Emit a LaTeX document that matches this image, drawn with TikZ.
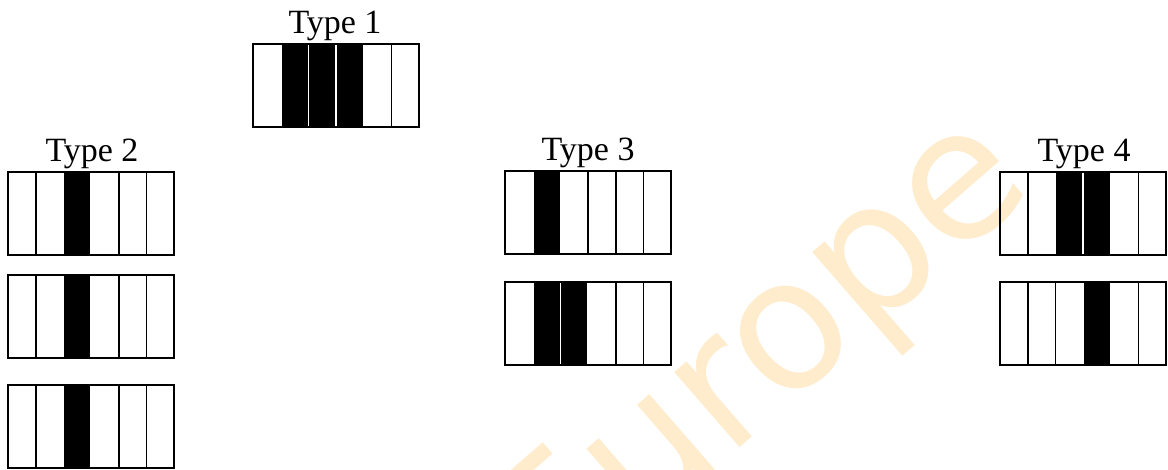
\documentclass[tikz,border=0pt]{standalone}
\usepackage{fontspec}
\setmainfont{Liberation Serif}
\newfontfamily\markfont{DejaVu Sans}
\usepackage{tikz}
\usetikzlibrary{positioning}

\definecolor{markorange}{RGB}{255,236,205}

\tikzset{
	cellline/.style={line width=1.6pt},
	blackcell/.style={fill=black, draw=white, line width=1.8pt},
	typelabel/.style={anchor=base, inner sep=0pt, font=\fontsize{34}{40}\selectfont},
}

% six cells in a row: left x, top y, list of black cells
\newcommand{\cellstrip}[3]{%
	\foreach \c in {1,...,5}
		\draw[cellline] (#1+\c*27.7,#2) -- ++(0,-83);
	\foreach \c in {#3}
		\path[blackcell] (#1+\c*27.7,#2) rectangle ++(27.7,-83);
	\draw[cellline] (#1,#2) rectangle ++(166.2,-83);
}

\begin{document}
\begin{tikzpicture}[x=1pt,y=1pt]
		\useasboundingbox (0,0) rectangle (1168,-470);
		\clip (0,0) rectangle (1168,-470);

		% watermark
		\node[rotate=41, inner sep=0pt, text=markorange, font=\markfont\fontsize{182}{182}\selectfont] (mark) at (764,-364) {Europe};

		% Type 1
		\node[typelabel] (type1) at (335,-34) {Type 1};
		\cellstrip{253}{-44}{1,2,3}

		% Type 2
		\node[typelabel] (type2) at (92,-162) {Type 2};
		\cellstrip{8}{-172}{2}
		\cellstrip{8}{-275}{2}
		\cellstrip{8}{-385}{2}

		% Type 3
		\node[typelabel] (type3) at (588,-161) {Type 3};
		\cellstrip{505}{-171}{1}
		\cellstrip{505}{-282}{1,2}

		% Type 4
		\node[typelabel] (type4) at (1084,-162) {Type 4};
		\cellstrip{1000}{-172}{2,3}
		\cellstrip{1000}{-282}{3}
	\end{tikzpicture}
\end{document}
